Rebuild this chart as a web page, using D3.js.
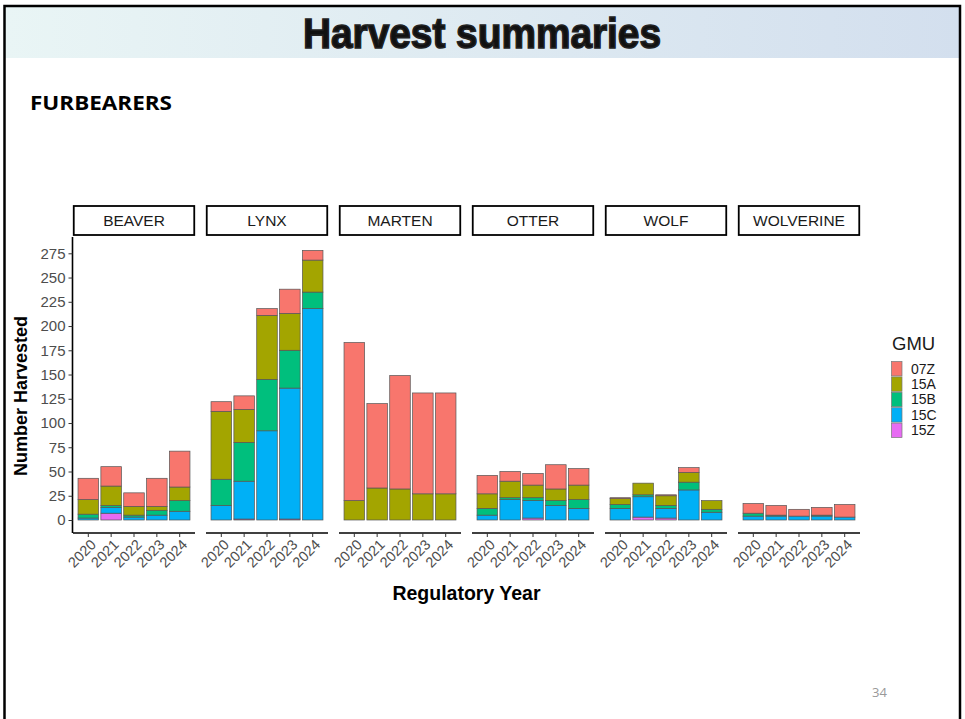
<!DOCTYPE html>
<meta charset="utf-8">
<style>
    body {margin: 0; background: #fff; font-family: 'Liberation Sans', Arial, sans-serif;}
</style>

<svg width="965" height="719"></svg>

<script src="https://cdnjs.cloudflare.com/ajax/libs/d3/7.8.5/d3.min.js"></script>
<script>

var species = ["BEAVER", "LYNX", "MARTEN", "OTTER", "WOLF", "WOLVERINE"];
var years = ["2020", "2021", "2022", "2023", "2024"];
var gmus = ["07Z", "15A", "15B", "15C", "15Z"];
var yTicks = [0, 25, 50, 75, 100, 125, 150, 175, 200, 225, 250, 275];

// harvest per GMU, species order as above, 5 years each
var h07Z = [22, 20, 14, 29, 37,   10, 14, 7, 25, 10,   163, 87, 117, 104, 104,
            19, 10, 12, 25, 17,   1, 0, 1, 5, 0,       10, 10, 7, 8, 13];
var h15A = [15, 20, 9, 4, 14,     70, 34, 66, 38, 33,  20, 33, 32, 27, 27,
            15, 17, 13, 12, 15,   6, 12, 10, 10, 9,    0, 0, 0, 0, 0];
var h15B = [4, 2, 2, 5, 11,       27, 40, 53, 39, 17,  0, 0, 0, 0, 0,
            7, 2, 3, 5, 9,        4, 2, 3, 8, 3,       3, 1, 0, 1, 0];
var h15C = [2, 6, 3, 5, 9,        15, 39, 92, 135, 218, 0, 0, 0, 0, 0,
            5, 21, 18, 15, 12,    12, 21, 10, 31, 8,   4, 4, 4, 4, 3];
var h15Z = [0, 7, 0, 0, 0,        0, 1, 0, 1, 0,       0, 0, 0, 0, 0,
            0, 0, 2, 0, 0,        0, 3, 2, 0, 0,       0, 0, 0, 0, 0];

var colors = ["#F8766D", "#A3A500", "#00BF7D", "#00B0F6", "#E76BF3"];

var svg = d3.select("svg");

// slide header + frame
var defs = svg.append("defs");
var grad = defs.append("linearGradient").attr("id", "hdr");
grad.append("stop").attr("offset", "0%").attr("stop-color", "#e9f5f5");
grad.append("stop").attr("offset", "100%").attr("stop-color", "#d3dfee");

svg.append("rect").attr("x", 5).attr("y", 6).attr("width", 955).attr("height", 52)
   .attr("fill", "url(#hdr)");
svg.append("rect").attr("x", 4.5).attr("y", 6).attr("width", 955.5).attr("height", 730)
   .attr("fill", "none").attr("stroke", "#000").attr("stroke-width", 2.5);

svg.append("text")
   .attr("x", 482).attr("y", 48)
   .attr("text-anchor", "middle")
   .style("font-family", "'Liberation Sans Narrow', 'Liberation Sans', Arial, sans-serif")
   .style("font-weight", "bold")
   .style("font-size", "43px")
   .attr("fill", "#111").attr("stroke", "#222").attr("stroke-width", 1.6)
   .attr("textLength", 358).attr("lengthAdjust", "spacingAndGlyphs")
   .text("Harvest summaries");

svg.append("text")
   .attr("x", 30).attr("y", 110)
   .style("font-family", "'Open Sans', sans-serif")
   .style("font-weight", "bold").style("font-size", "19px")
   .attr("textLength", 142).attr("lengthAdjust", "spacingAndGlyphs")
   .text("FURBEARERS");

svg.append("text")
   .attr("x", 872).attr("y", 697)
   .style("font-family", "'Open Sans', sans-serif")
   .style("font-size", "13px").attr("fill", "#999")
   .text("34");

// chart
var panelLeft = 73, panelW = 122, panelGap = 11;
var panelTop = 237, panelBottom = 533;

var fx = d3.scaleBand().domain(species)
    .range([panelLeft, panelLeft + species.length * panelW + (species.length - 1) * panelGap])
    .paddingInner(panelGap / (panelW + panelGap));

var x = d3.scaleBand().domain(years).range([0, panelW])
    .paddingInner(0.1).paddingOuter(0.22);

var y = d3.scaleLinear().domain([0, 275]).range([520, 253.3]);

var color = d3.scaleOrdinal().domain(gmus).range(colors);

var rows = [];
species.forEach(function(s, si) {
  years.forEach(function(yr, yi) {
    var i = si * 5 + yi;
    rows.push({species: s, year: yr, "07Z": h07Z[i], "15A": h15A[i], "15B": h15B[i], "15C": h15C[i], "15Z": h15Z[i]});
  });
});

var stack = d3.stack().keys(gmus.slice().reverse());

species.forEach(function(s) {
  var g = svg.append("g").attr("transform", "translate(" + fx(s) + ",0)");
  var data = rows.filter(function(r) { return r.species === s; });
  var series = stack(data);

  // strip
  g.append("rect").attr("x", 0.75).attr("y", 206).attr("width", panelW - 1.5).attr("height", 29)
   .attr("fill", "#fff").attr("stroke", "#000").attr("stroke-width", 1.8);
  g.append("text").attr("x", panelW / 2).attr("y", 226)
   .attr("text-anchor", "middle").style("font-size", "15.5px").attr("fill", "#1a1a1a")
   .text(s);

  g.selectAll("g.layer").data(series).enter().append("g")
   .attr("fill", function(d) { return color(d.key); })
   .selectAll("rect").data(function(d) { return d.filter(function(p) { return p[1] > p[0]; }); })
   .enter().append("rect")
   .attr("x", function(d) { return x(d.data.year); })
   .attr("width", x.bandwidth())
   .attr("y", function(d) { return y(d[1]); })
   .attr("height", function(d) { return y(d[0]) - y(d[1]); })
   .attr("stroke", "#555").attr("stroke-width", 0.7);

  // x axis
  var xa = g.append("g").attr("transform", "translate(0," + panelBottom + ")")
   .call(d3.axisBottom(x).tickSize(4).tickPadding(3));
  xa.select(".domain").attr("stroke", "#000").attr("stroke-width", 1.6)
    .attr("d", "M0,0H" + panelW);
  xa.selectAll(".tick line").attr("stroke", "#333");
  xa.selectAll(".tick text")
    .attr("text-anchor", "end")
    .attr("fill", "#4d4d4d")
    .style("font-size", "14.5px").style("font-family", "'Liberation Sans', Arial, sans-serif")
    .attr("x", 0).attr("y", 0).attr("dy", "0.35em")
    .attr("transform", "translate(5,9) rotate(-45)");
});

// y axis
var ya = svg.append("g").attr("transform", "translate(" + (panelLeft - 0.5) + ",0)")
   .call(d3.axisLeft(y).tickValues(yTicks).tickSize(4).tickPadding(3));
ya.select(".domain").attr("stroke", "#000").attr("stroke-width", 1.6)
  .attr("d", "M0," + panelTop + "V" + panelBottom);
ya.selectAll(".tick line").attr("stroke", "#333");
ya.selectAll(".tick text").attr("fill", "#4d4d4d")
  .style("font-size", "15px").style("font-family", "'Liberation Sans', Arial, sans-serif");

svg.append("text")
   .attr("transform", "translate(27," + ((panelTop + panelBottom) / 2 + 11) + ") rotate(-90)")
   .attr("text-anchor", "middle")
   .style("font-weight", "bold").style("font-size", "18px")
   .text("Number Harvested");

svg.append("text")
   .attr("x", (fx.range()[0] + fx.range()[1]) / 2).attr("y", 600)
   .attr("text-anchor", "middle")
   .style("font-weight", "bold").style("font-size", "19.5px")
   .text("Regulatory Year");

// legend
var lg = svg.append("g").attr("transform", "translate(891,0)");
lg.append("text").attr("x", 1).attr("y", 350)
  .style("font-size", "18.5px").attr("fill", "#1a1a1a").text("GMU");
var item = lg.selectAll("g.item").data(gmus).enter().append("g")
  .attr("transform", function(d, i) { return "translate(0," + (361 + i * 15.4) + ")"; });
item.append("rect").attr("x", 0.5).attr("y", 0.5).attr("width", 10.5).attr("height", 14.4)
  .attr("fill", function(d) { return color(d); }).attr("stroke", "#777").attr("stroke-width", 0.7);
item.append("text").attr("x", 20).attr("y", 12.5)
  .style("font-size", "14px").attr("fill", "#1a1a1a")
  .text(function(d) { return d; });

</script>
